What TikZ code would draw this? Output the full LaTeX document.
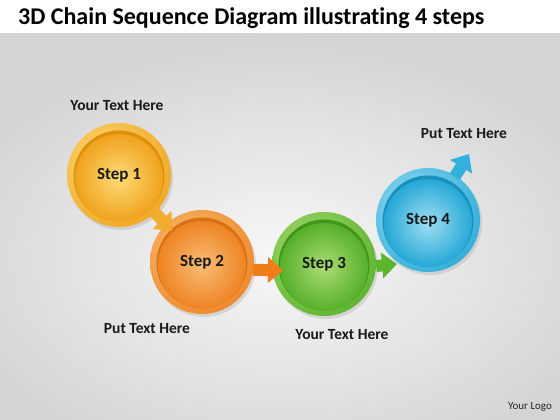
\documentclass[tikz,border=0pt]{standalone}
\usepackage{fontspec}
\setmainfont[Ligatures=NoCommon,Contextuals=NoAlternate]{Carlito}
\usetikzlibrary{arrows.meta,shadows,calc}
\definecolor{c1}{HTML}{F0A21C}\definecolor{c1L}{HTML}{FCDC78}\definecolor{c1D}{HTML}{DC900E}
\definecolor{c2}{HTML}{EE8424}\definecolor{c2L}{HTML}{F8BC76}\definecolor{c2D}{HTML}{D87014}
\definecolor{c3}{HTML}{56B02A}\definecolor{c3L}{HTML}{ACDC74}\definecolor{c3D}{HTML}{42961C}
\definecolor{c4}{HTML}{26A8D6}\definecolor{c4L}{HTML}{9EDEF2}\definecolor{c4D}{HTML}{1890BC}
\definecolor{a1}{HTML}{F2AC2E}\definecolor{a2}{HTML}{F07C1A}\definecolor{a3}{HTML}{5CB52C}\definecolor{a4}{HTML}{34B0DE}
\tikzset{
  ball/.style={circle, minimum size=104pt, inner sep=0pt,
    font=\bfseries\fontsize{17}{19}\selectfont, text=black!90,
    drop shadow={opacity=0.22, shadow xshift=2pt, shadow yshift=-3pt},
    path picture={
      \shade[inner color=#1L, outer color=#1] ([shift={(-14pt,14pt)}]path picture bounding box.center) circle (80pt);
      \fill[#1D] ([yshift=-1pt]path picture bounding box.center) circle (45.5pt);
      \shade[inner color=#1L, outer color=#1] ([yshift=-3pt]path picture bounding box.center) circle (44pt);
    }},
  arr/.style={draw=#1, line width=12pt, -{Triangle[length=15pt,width=25pt]}},
  lbl/.style={font=\bfseries\fontsize{15.5}{18}\selectfont, text=black!90},
}
\begin{document}
\begin{tikzpicture}[x=1pt,y=1pt]
\useasboundingbox (0,0) rectangle (560,420);
\shade[inner color=white!97!black, outer color=black!17] (-80,-60) rectangle (640,387);
\fill[white] (0,387) rectangle (560,420);
\node[anchor=base west, font=\bfseries\fontsize{24}{27}\selectfont, inner sep=0pt] (title) at (18,395) {3D Chain Sequence Diagram illustrat\kern0pt ing 4 steps};
\node[ball=c1] (s1) at (119,245) {Step 1};
\node[ball=c2] (s2) at (202,158) {Step 2};
\node[ball=c3] (s3) at (324,156) {Step 3};
\node[ball=c4] (s4) at (428,200) {Step 4};
\coordinate (t3) at (397,156);
\coordinate (t4) at (469,266);
\draw[arr=a1, shorten <=51pt, shorten >=43pt] (s1.center) -- (s2.center);
\draw[arr=a2, shorten <=51pt, shorten >=41pt] ([yshift=-7pt]s2.center) -- ([yshift=-7pt]s3.center);
\draw[arr=a3] ([yshift=-2pt]s3.east) -- (t3);
\draw[arr=a4, shorten <=51pt] (s4.center) -- (t4);
\node[lbl] (l1) at (117,314) {Your Text Here};
\node[lbl] (l4) at (464,286) {Put Text Here};
\node[lbl] (l2) at (147,91) {Put Text Here};
\node[lbl] (l3) at (342,85) {Your Text Here};
\node[font=\fontsize{11}{13}\selectfont, text=black!85] (logo) at (530,13) {Your Logo};
\end{tikzpicture}
\end{document}
